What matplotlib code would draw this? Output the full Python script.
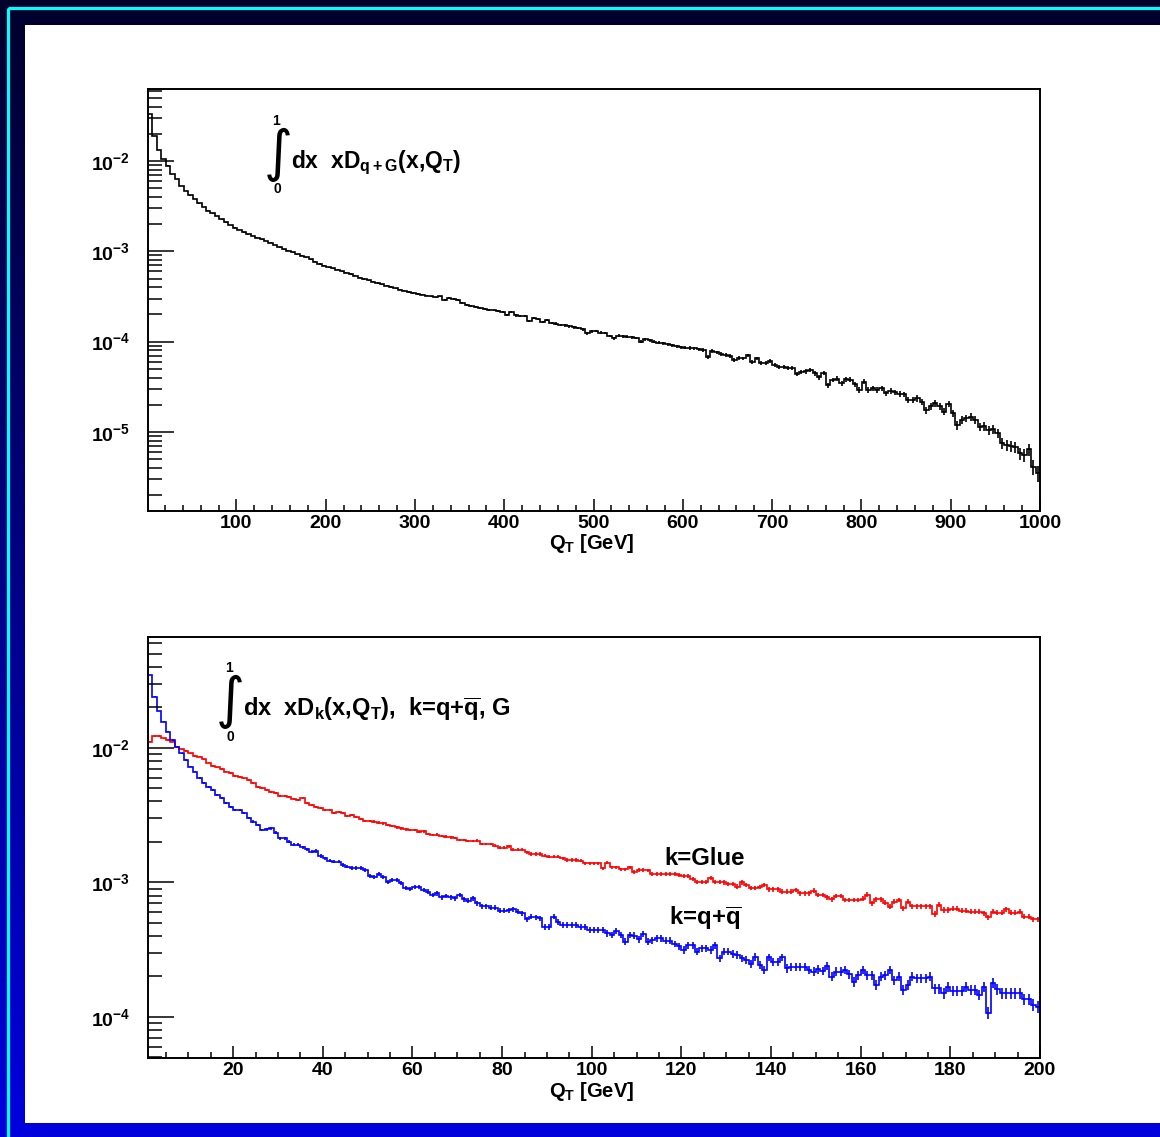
import matplotlib
matplotlib.use("Agg")
import matplotlib.pyplot as plt
import numpy as np
from matplotlib.patches import Rectangle
from matplotlib.ticker import LogLocator, MultipleLocator, NullFormatter

plt.rcParams.update({
    "font.family": ["Liberation Sans", "DejaVu Sans"],
    "font.weight": "bold",
    "mathtext.fontset": "custom",
    "mathtext.rm": "Liberation Sans:bold",
    "mathtext.it": "Liberation Sans:bold",
    "mathtext.bf": "Liberation Sans:bold",
    "mathtext.default": "rm",
})

W, H = 1160, 1137

# ── data: log10 of bin contents ──
# top: q+G, 200 bins over QT = 1..1000 GeV
qg_log10 = [
    -1.48, -1.72, -1.875, -1.98, -2.05, -2.145, -2.20, -2.275, -2.33, -2.38,
    -2.42, -2.47, -2.51, -2.55, -2.58, -2.61, -2.645, -2.68, -2.71, -2.74,
    -2.765, -2.79, -2.81, -2.83, -2.85, -2.865, -2.885, -2.905, -2.93, -2.955,
    -2.975, -2.995, -3.01, -3.03, -3.05, -3.065, -3.09, -3.115, -3.14, -3.16,
    -3.175, -3.19, -3.205, -3.22, -3.235, -3.25, -3.27, -3.29, -3.305, -3.32,
    -3.335, -3.35, -3.365, -3.38, -3.395, -3.41, -3.425, -3.435, -3.45, -3.46,
    -3.47, -3.48, -3.49, -3.50, -3.51, -3.50, -3.54, -3.52, -3.53, -3.54,
    -3.575, -3.59, -3.605, -3.615, -3.63, -3.64, -3.65, -3.655, -3.665, -3.67,
    -3.705, -3.668, -3.71, -3.716, -3.72, -3.768, -3.742, -3.745, -3.779, -3.761,
    -3.795, -3.80, -3.815, -3.82, -3.83, -3.842, -3.85, -3.864, -3.908, -3.885,
    -3.883, -3.90, -3.905, -3.938, -3.964, -3.934, -3.94, -3.946, -3.95, -3.96,
    -4.00, -3.975, -3.985, -4.00, -4.01, -4.015, -4.03, -4.04, -4.05, -4.06,
    -4.065, -4.07, -4.074, -4.085, -4.093, -4.167, -4.104, -4.12, -4.137, -4.15,
    -4.159, -4.204, -4.18, -4.185, -4.152, -4.222, -4.185, -4.235, -4.24, -4.211,
    -4.26, -4.278, -4.285, -4.289, -4.29, -4.359, -4.333, -4.33, -4.314, -4.35,
    -4.396, -4.344, -4.481, -4.425, -4.411, -4.462, -4.418, -4.42, -4.469, -4.536,
    -4.444, -4.536, -4.517, -4.536, -4.517, -4.573, -4.544, -4.56, -4.58, -4.585,
    -4.647, -4.645, -4.628, -4.665, -4.757, -4.713, -4.683, -4.713, -4.776, -4.691,
    -4.794, -4.923, -4.868, -4.849, -4.831, -4.868, -4.942, -4.935, -4.979, -4.971,
    -5.016, -5.126, -5.145, -5.156, -5.164, -5.237, -5.256, -5.193, -5.385, -5.458,
]

# bottom: quark (blue) and glue (red), 199 bins over QT = 1..200 GeV
quark_log10 = [
    -1.457, -1.619, -1.725, -1.805, -1.879, -1.941, -1.990, -2.040, -2.089, -2.139,
    -2.176, -2.221, -2.262, -2.288, -2.312, -2.349, -2.374, -2.411, -2.436, -2.461,
    -2.461, -2.486, -2.523, -2.548, -2.572, -2.610, -2.605, -2.597, -2.630, -2.672,
    -2.672, -2.696, -2.721, -2.721, -2.738, -2.754, -2.771, -2.766, -2.803, -2.820,
    -2.838, -2.845, -2.845, -2.870, -2.882, -2.894, -2.894, -2.894, -2.907, -2.952,
    -2.961, -2.937, -2.957, -2.994, -2.981, -2.981, -3.006, -3.043, -3.050, -3.036,
    -3.031, -3.056, -3.068, -3.093, -3.081, -3.11, -3.10, -3.11, -3.118, -3.093,
    -3.125, -3.135, -3.118, -3.155, -3.175, -3.175, -3.187, -3.187, -3.210, -3.210,
    -3.205, -3.199, -3.217, -3.229, -3.274, -3.254, -3.26, -3.266, -3.328, -3.328,
    -3.254, -3.291, -3.316, -3.316, -3.316, -3.316, -3.328, -3.33, -3.353, -3.353,
    -3.353, -3.355, -3.378, -3.39, -3.36, -3.39, -3.44, -3.39, -3.395, -3.423,
    -3.383, -3.44, -3.43, -3.415, -3.415, -3.433, -3.433, -3.457, -3.472, -3.502,
    -3.465, -3.465, -3.514, -3.489, -3.489, -3.502, -3.465, -3.564, -3.514, -3.514,
    -3.532, -3.54, -3.564, -3.576, -3.606, -3.552, -3.613, -3.651, -3.556, -3.589,
    -3.589, -3.556, -3.638, -3.626, -3.626, -3.626, -3.626, -3.651, -3.663, -3.646,
    -3.656, -3.621, -3.700, -3.663, -3.663, -3.651, -3.680, -3.737, -3.688, -3.651,
    -3.688, -3.688, -3.762, -3.700, -3.688, -3.651, -3.725, -3.700, -3.799, -3.762,
    -3.700, -3.713, -3.713, -3.713, -3.700, -3.787, -3.787, -3.824, -3.775, -3.804,
    -3.804, -3.804, -3.775, -3.799, -3.799, -3.836, -3.775, -3.968, -3.745, -3.794,
    -3.824, -3.824, -3.824, -3.824, -3.824, -3.868, -3.868, -3.911, -3.923,
]

glue_log10 = [
    -1.953, -1.911, -1.911, -1.928, -1.941, -1.953, -1.990, -2.010, -2.022, -2.040,
    -2.059, -2.065, -2.084, -2.109, -2.134, -2.144, -2.158, -2.176, -2.188, -2.208,
    -2.215, -2.226, -2.238, -2.258, -2.288, -2.300, -2.312, -2.325, -2.337, -2.357,
    -2.357, -2.362, -2.379, -2.387, -2.374, -2.407, -2.424, -2.436, -2.448, -2.461,
    -2.461, -2.481, -2.474, -2.486, -2.506, -2.498, -2.515, -2.530, -2.541, -2.541,
    -2.548, -2.555, -2.560, -2.572, -2.580, -2.590, -2.597, -2.605, -2.610, -2.610,
    -2.622, -2.620, -2.639, -2.647, -2.645, -2.655, -2.66, -2.664, -2.67, -2.684,
    -2.684, -2.691, -2.691, -2.69, -2.714, -2.714, -2.714, -2.726, -2.741, -2.741,
    -2.729, -2.758, -2.758, -2.758, -2.775, -2.788, -2.788, -2.788, -2.80, -2.808,
    -2.808, -2.808, -2.82, -2.833, -2.833, -2.833, -2.838, -2.857, -2.857, -2.857,
    -2.857, -2.895, -2.853, -2.887, -2.887, -2.902, -2.902, -2.887, -2.920, -2.907,
    -2.907, -2.910, -2.939, -2.939, -2.939, -2.939, -2.939, -2.939, -2.945, -2.952,
    -2.952, -2.976, -2.994, -2.994, -2.994, -2.969, -2.994, -2.994, -3.00, -3.011,
    -3.011, -3.03, -3.00, -3.02, -3.039, -3.039, -3.031, -3.019, -3.051, -3.051,
    -3.051, -3.068, -3.068, -3.068, -3.056, -3.081, -3.081, -3.081, -3.06, -3.093,
    -3.093, -3.11, -3.125, -3.100, -3.100, -3.130, -3.130, -3.130, -3.130, -3.12,
    -3.09, -3.155, -3.125, -3.125, -3.150, -3.180, -3.143, -3.130, -3.192, -3.143,
    -3.175, -3.175, -3.175, -3.175, -3.175, -3.234, -3.165, -3.204, -3.204, -3.195,
    -3.195, -3.209, -3.209, -3.217, -3.217, -3.217, -3.23, -3.259, -3.217, -3.224,
    -3.224, -3.199, -3.224, -3.224, -3.217, -3.254, -3.254, -3.274, -3.274,
]

# per-event MC weight, sets the size of the sqrt(N) error bars
top_weight = 1.4e-7
bottom_weight = 1.2e-6

top_edges = np.linspace(1, 1000, len(qg_log10) + 1)
bottom_edges = np.linspace(1, 200, len(quark_log10) + 1)


def fx(px):
    return px / W


def fy(py):
    return 1 - py / H


def draw_hist(ax, edges, logv, color, weight):
    v = 10.0 ** np.asarray(logv)
    err = np.sqrt(v * weight)
    centers = 0.5 * (edges[:-1] + edges[1:])
    ax.stairs(v, edges, color=color, lw=1.2, baseline=None)
    ax.vlines(centers, v - err, v + err, color=color, lw=1.2)


def style_axes(ax, xlim, ylim, xmajor, xminor, decades):
    ax.set_xlim(*xlim)
    ax.set_yscale("log")
    ax.set_ylim(*ylim)
    ax.xaxis.set_major_locator(MultipleLocator(xmajor))
    ax.xaxis.set_minor_locator(MultipleLocator(xminor))
    ax.set_yticks([10.0 ** d for d in decades],
                  labels=[rf"$10^{{{d}}}$" for d in decades])
    ax.yaxis.set_minor_locator(LogLocator(base=10, subs=np.arange(2, 10)))
    ax.yaxis.set_minor_formatter(NullFormatter())
    ax.tick_params(axis="y", which="major", direction="in", length=19,
                   width=1.1, pad=13, labelsize=14, right=False)
    ax.tick_params(axis="y", which="minor", direction="in", length=10,
                   width=1.1, right=False)
    ax.tick_params(axis="x", which="major", direction="in", length=9,
                   width=1.1, pad=3, labelsize=14, top=False)
    ax.tick_params(axis="x", which="minor", direction="in", length=4.5,
                   width=1.1, top=False)
    for s in ax.spines.values():
        s.set_linewidth(1.4)
    ax.set_facecolor("white")


fig = plt.figure(figsize=(W / 100, H / 100), dpi=100)

# ── canvas background: gradient, cyan frame, white pad ──
bg = fig.add_axes([0, 0, 1, 1], zorder=-10)
grad = np.zeros((256, 1, 3))
grad[:, 0, 2] = np.linspace(0.17, 0.87, 256)
bg.imshow(grad, extent=[0, W, H, 0], aspect="auto")
bg.add_patch(Rectangle((7.5, 7.5), W + 50, H + 50, fill=False,
                       ec="#00ffff", lw=2.3))
bg.add_patch(Rectangle((25, 25), W + 50, 1122.5 - 25, fc="white", ec="none"))
bg.set_xlim(0, W)
bg.set_ylim(H, 0)
bg.axis("off")

# ── top pad ──
ax1 = fig.add_axes([fx(148), fy(511), fx(1040) - fx(148), fy(89) - fy(511)])
draw_hist(ax1, top_edges, qg_log10, "black", top_weight)
style_axes(ax1, (1, 1000), (10 ** -5.875, 10 ** -1.203), 100, 20,
           [-5, -4, -3, -2])

fig.text(fx(592), fy(549), r"Q$_{T}$ [GeV]", ha="center", va="baseline",
         fontsize=14.5)
fig.text(fx(278), fy(155), "\u222b", ha="center", va="center", fontsize=40,
         family="DejaVu Sans", weight="normal")
fig.text(fx(276), fy(121), "1", ha="center", va="center", fontsize=10)
fig.text(fx(277), fy(189), "0", ha="center", va="center", fontsize=10)
fig.text(fx(291), fy(168), r"dx  x$D_{q+G}$(x,Q$_{T}$)", ha="left",
         va="baseline", fontsize=16.5)

# ── bottom pad ──
ax2 = fig.add_axes([fx(148), fy(1058), fx(1040) - fx(148), fy(637) - fy(1058)])
draw_hist(ax2, bottom_edges, glue_log10, "red", bottom_weight)
draw_hist(ax2, bottom_edges, quark_log10, "blue", bottom_weight)
style_axes(ax2, (1, 200), (10 ** -4.305, 10 ** -1.175), 20, 5,
           [-4, -3, -2])

fig.text(fx(592), fy(1097), r"Q$_{T}$ [GeV]", ha="center", va="baseline",
         fontsize=14.5)
fig.text(fx(230), fy(702), "\u222b", ha="center", va="center", fontsize=40,
         family="DejaVu Sans", weight="normal")
fig.text(fx(229), fy(668), "1", ha="center", va="center", fontsize=10)
fig.text(fx(230), fy(737), "0", ha="center", va="center", fontsize=10)
fig.text(fx(243), fy(716),
         r"dx  x$D_{k}$(x,Q$_{T}$),  k=q+$\overline{q}$, G",
         ha="left", va="baseline", fontsize=17)
fig.text(fx(664), fy(865), "k=Glue", ha="left", va="baseline", fontsize=17.3)
fig.text(fx(669), fy(925), r"k=q+$\overline{q}$", ha="left", va="baseline",
         fontsize=17.3)

fig.savefig("out.png", dpi=100)
